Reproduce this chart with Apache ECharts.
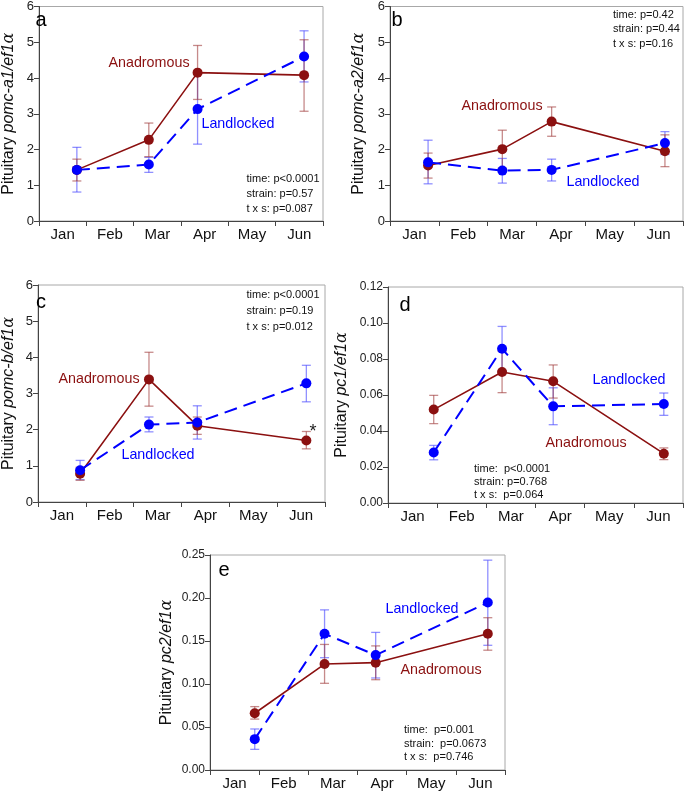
<!DOCTYPE html>
<html>
<head>
<meta charset="utf-8">
<script src="https://cdn.jsdelivr.net/npm/echarts@6/dist/echarts.min.js"></script>
<style>html,body{margin:0;padding:0;background:#fff;}#chart{width:685px;height:791px;}</style>
</head>
<body>
<div id="chart"></div>
<script>
// ---- data ----
const months = ['Jan', 'Feb', 'Mar', 'Apr', 'May', 'Jun'];

// sampling times (in months from 1 Jan) read per panel
const timesA = [0.80, 2.32, 3.35, 5.60];
const timesB = [0.78, 2.30, 3.31, 5.63];
const timesC = [0.88, 2.32, 3.33, 5.61];
const timesD = [0.93, 2.32, 3.36, 5.61];
const timesE = [0.91, 2.33, 3.37, 5.65];

// panel a: pomc-a1
const anadA = [1.43, 2.27, 4.15, 4.08];
const anadALo = [1.12, 1.80, 3.40, 3.07];
const anadAHi = [1.73, 2.74, 4.91, 5.07];
const landA = [1.43, 1.58, 3.13, 4.60];
const landALo = [0.81, 1.36, 2.15, 3.89];
const landAHi = [2.06, 1.78, 4.13, 5.32];

// panel b: pomc-a2
const anadB = [1.55, 2.01, 2.78, 1.95];
const anadBLo = [1.20, 1.48, 2.37, 1.52];
const anadBHi = [1.90, 2.54, 3.19, 2.41];
const landB = [1.64, 1.41, 1.43, 2.18];
const landBLo = [1.04, 1.06, 1.12, 1.86];
const landBHi = [2.26, 1.75, 1.73, 2.50];

// panel c: pomc-b
const anadC = [0.78, 3.39, 2.11, 1.70];
const anadCLo = [0.60, 2.65, 1.87, 1.47];
const anadCHi = [0.96, 4.14, 2.35, 1.95];
const landC = [0.88, 2.14, 2.20, 3.28];
const landCLo = [0.62, 1.94, 1.74, 2.77];
const landCHi = [1.15, 2.35, 2.66, 3.78];

// panel d: pc1
const anadD = [0.0519, 0.0728, 0.0676, 0.0274];
const anadDLo = [0.0441, 0.0613, 0.0583, 0.0241];
const anadDHi = [0.0598, 0.0843, 0.0767, 0.0306];
const landD = [0.0281, 0.0857, 0.0537, 0.0550];
const landDLo = [0.0240, 0.0733, 0.0435, 0.0487];
const landDHi = [0.0320, 0.0981, 0.0640, 0.0611];

// panel e: pc2
const anadE = [0.0660, 0.1232, 0.1248, 0.1584];
const anadELo = [0.0592, 0.1008, 0.1050, 0.1393];
const anadEHi = [0.0737, 0.1460, 0.1443, 0.1771];
const landE = [0.0359, 0.1584, 0.1336, 0.1947];
const landELo = [0.0240, 0.1306, 0.1070, 0.1450];
const landEHi = [0.0477, 0.1862, 0.1600, 0.2440];

// y axis tick settings
const yMaxes = [6, 6, 6, 0.12, 0.25];
const yIntervals = [1, 1, 1, 0.02, 0.05];
const genes = ['pomc-a1/ef1', 'pomc-a2/ef1', 'pomc-b/ef1', 'pc1/ef1', 'pc2/ef1'];
const panelLetters = ['a', 'b', 'c', 'd', 'e'];
const stats = [
  ['time: p<0.0001', 'strain: p=0.57', 't x s: p=0.087'],
  ['time: p=0.42', 'strain: p=0.44', 't x s: p=0.16'],
  ['time: p<0.0001', 'strain: p=0.19', 't x s: p=0.012'],
  ['time:  p<0.0001', 'strain: p=0.768', 't x s:  p=0.064'],
  ['time:  p=0.001', 'strain:  p=0.0673', 't x s:  p=0.746']
];

// ---- layout / style ----
const FONT = '"Liberation Sans", Arial, sans-serif';
const ANAD = '#8B1010';
const LAND = '#0000FF';
const ANAD_ERR = 'rgba(160,60,60,0.6)';
const LAND_ERR = 'rgba(70,70,255,0.6)';

const grids = [
  {left: 35, top: 5, width: 288, height: 216},
  {left: 390, top: 5, width: 293, height: 216},
  {left: 33, top: 285, width: 292, height: 217},
  {left: 388, top: 287, width: 295, height: 216},
  {left: 210, top: 555, width: 295, height: 218}
];
const nameGaps = [22, 23, 21, 38, 35];
const yLabelSizes = [13, 13, 13, 12, 12];

const panels = [
  {t: timesA, a: anadA, aLo: anadALo, aHi: anadAHi, l: landA, lLo: landALo, lHi: landAHi},
  {t: timesB, a: anadB, aLo: anadBLo, aHi: anadBHi, l: landB, lLo: landBLo, lHi: landBHi},
  {t: timesC, a: anadC, aLo: anadCLo, aHi: anadCHi, l: landC, lLo: landCLo, lHi: landCHi},
  {t: timesD, a: anadD, aLo: anadDLo, aHi: anadDHi, l: landD, lLo: landDLo, lHi: landDHi},
  {t: timesE, a: anadE, aLo: anadELo, aHi: anadEHi, l: landE, lLo: landELo, lHi: landEHi}
];

const xAxes = [], yAxes = [], series = [];
grids.forEach((g, i) => {
  g.show = true; g.borderColor = '#a8a8a8'; g.borderWidth = 1; g.containLabel = false;
  xAxes.push({
    gridIndex: i, type: 'category', data: months, boundaryGap: true,
    axisLine: {lineStyle: {color: '#444', width: 1}},
    axisTick: {show: true, length: 5, lineStyle: {color: '#444'}},
    axisLabel: {fontSize: 15, color: '#111', fontFamily: FONT, margin: 6, interval: 0},
    splitLine: {show: false}
  });
  xAxes.push({gridIndex: i, type: 'value', min: 0, max: 6, show: false});
  const dec = yIntervals[i] < 1 ? 2 : 0;
  yAxes.push({
    gridIndex: i, type: 'value', min: 0, max: yMaxes[i], interval: yIntervals[i],
    axisLine: {show: true, lineStyle: {color: '#444', width: 1}},
    axisTick: {show: true, length: 5, lineStyle: {color: '#444'}},
    axisLabel: {fontSize: yLabelSizes[i], color: '#222', fontFamily: FONT, margin: 5,
      formatter: v => v.toFixed(dec)},
    splitLine: {show: false},
    name: '{n|Pituitary }{i|' + genes[i] + '}{g|α}',
    nameLocation: 'middle', nameRotate: 90, nameGap: nameGaps[i],
    nameTextStyle: {
      color: '#111', fontSize: 16, fontFamily: FONT,
      rich: {
        n: {fontSize: 16, fontFamily: FONT, color: '#111'},
        i: {fontSize: 16, fontFamily: FONT, fontStyle: 'italic', color: '#111'},
        g: {fontSize: 16, fontFamily: '"DejaVu Serif", serif', fontStyle: 'italic', color: '#111'}
      }
    }
  });
});

function errBars(i, xs, lo, hi, color) {
  return {
    type: 'custom', xAxisIndex: 2 * i + 1, yAxisIndex: i, z: 2,
    data: xs.map((x, k) => [x, lo[k], hi[k]]),
    encode: {x: 0, y: [1, 2]},
    silent: true,
    renderItem: (params, api) => {
      const x = api.value(0);
      const p1 = api.coord([x, api.value(2)]);
      const p2 = api.coord([x, api.value(1)]);
      const w = 4.5;
      const st = {stroke: color, lineWidth: 1.3};
      return {type: 'group', children: [
        {type: 'line', shape: {x1: p1[0], y1: p1[1], x2: p2[0], y2: p2[1]}, style: st},
        {type: 'line', shape: {x1: p1[0] - w, y1: p1[1], x2: p1[0] + w, y2: p1[1]}, style: st},
        {type: 'line', shape: {x1: p2[0] - w, y1: p2[1], x2: p2[0] + w, y2: p2[1]}, style: st}
      ]};
    }
  };
}

panels.forEach((p, i) => {
  series.push(errBars(i, p.t, p.lLo, p.lHi, LAND_ERR));
  series.push(errBars(i, p.t, p.aLo, p.aHi, ANAD_ERR));
  series.push({
    type: 'line', xAxisIndex: 2 * i + 1, yAxisIndex: i, z: 3,
    data: p.t.map((x, k) => [x, p.a[k]]),
    symbol: 'circle', symbolSize: 10, showSymbol: true,
    lineStyle: {color: ANAD, width: 1.6},
    itemStyle: {color: ANAD},
    animation: false, silent: true
  });
  series.push({
    type: 'line', xAxisIndex: 2 * i + 1, yAxisIndex: i, z: 4,
    data: p.t.map((x, k) => [x, p.l[k]]),
    symbol: 'circle', symbolSize: 10, showSymbol: true,
    lineStyle: {color: LAND, width: 2, type: [13, 7]},
    itemStyle: {color: LAND},
    animation: false, silent: true
  });
});

// ---- annotations ----
const graphic = [];
function txt(x, y, text, size, color, align, extra) {
  graphic.push(Object.assign({
    type: 'text', x: x, y: y, z: 10,
    style: Object.assign({text: text, fill: color, font: size + 'px ' + FONT,
      align: align || 'center', verticalAlign: 'middle'}, extra || {})
  }));
}
// panel letters
const letterPos = [[41, 20], [397, 20], [41, 302], [405, 305], [224, 570]];
letterPos.forEach((pos, i) => txt(pos[0], pos[1], panelLetters[i], 20, '#000', 'center'));
// strain labels
const anadPos = [[149, 63], [502, 106], [99, 379], [586, 443], [441, 670]];
const landPos = [[238, 124], [603, 182], [158, 455], [629, 380], [422, 609]];
anadPos.forEach(p => txt(p[0], p[1], 'Anadromous', 14.3, ANAD, 'center'));
landPos.forEach(p => txt(p[0], p[1], 'Landlocked', 14.3, LAND, 'center'));
// stats blocks
const statPos = [[246.5, 171.5, 15], [613, 7.5, 14.5], [246.5, 287, 16], [474, 462.5, 13], [404, 723, 13.7]];
statPos.forEach((s, i) => {
  graphic.push({
    type: 'text', x: s[0], y: s[1], z: 10,
    style: {text: stats[i].join('\n'), fill: '#111', font: '11px ' + FONT,
      align: 'left', verticalAlign: 'top', lineHeight: s[2]}
  });
});
// significance asterisk
txt(313, 432, '*', 18, '#222', 'center');

const chart = echarts.init(document.getElementById('chart'), null, {renderer: 'canvas'});
chart.setOption({
  animation: false,
  backgroundColor: '#fff',
  grid: grids,
  xAxis: xAxes,
  yAxis: yAxes,
  series: series,
  graphic: graphic
});
</script>
</body>
</html>
